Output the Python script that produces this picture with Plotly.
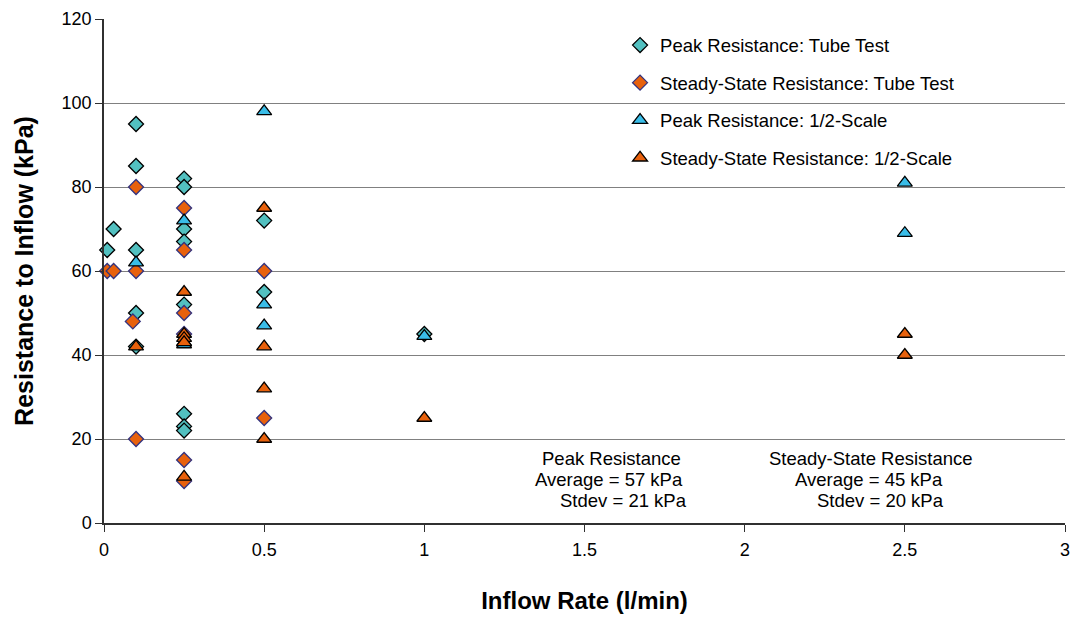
import plotly.graph_objects as go

# ---- data ----
peak_tube_x = [0.01, 0.03, 0.1, 0.1, 0.1, 0.1, 0.1, 0.25, 0.25, 0.25, 0.25, 0.25, 0.25, 0.25, 0.25, 0.5, 0.5, 1.0]
peak_tube_y = [65, 70, 95, 85, 65, 50, 42, 82, 80, 70, 67, 52, 26, 23, 22, 72, 55, 45]

steady_tube_x = [0.01, 0.03, 0.1, 0.1, 0.09, 0.1, 0.25, 0.25, 0.25, 0.25, 0.25, 0.25, 0.5, 0.5]
steady_tube_y = [60, 60, 80, 60, 48, 20, 75, 65, 50, 45, 15, 10, 60, 25]

peak_half_x = [0.1, 0.25, 0.25, 0.25, 0.5, 0.5, 0.5, 1.0, 2.5, 2.5]
peak_half_y = [62, 72, 43, 42.5, 98, 52, 47, 44.5, 81, 69]

steady_half_x = [0.1, 0.25, 0.25, 0.25, 0.25, 0.25, 0.5, 0.5, 0.5, 0.5, 1.0, 2.5, 2.5]
steady_half_y = [42, 55, 45, 44, 43, 11, 75, 42, 32, 20, 25, 45, 40]

series_names = [
    "Peak Resistance: Tube Test",
    "Steady-State Resistance: Tube Test",
    "Peak Resistance: 1/2-Scale",
    "Steady-State Resistance: 1/2-Scale",
]

x_ticks = [0, 0.5, 1, 1.5, 2, 2.5, 3]
x_tick_labels = ["0", "0.5", "1", "1.5", "2", "2.5", "3"]
y_ticks = [0, 20, 40, 60, 80, 100, 120]

# statistics text blocks (one entry per line)
peak_stats = ["Peak Resistance", "Average = 57 kPa", "Stdev = 21 kPa"]
peak_stats_x = [1.584, 1.578, 1.621]
steady_stats = ["Steady-State Resistance", "Average = 45 kPa", "Stdev = 20 kPa"]
steady_stats_x = [2.394, 2.388, 2.425]
stats_y = [15.45, 10.46, 5.47]

TEAL = "#52C0C0"
ORANGE = "#E8610C"
BLUE = "#3ABDE8"
FONT = "Liberation Sans, Arial, sans-serif"

fig = go.Figure()
fig.add_trace(go.Scatter(x=peak_tube_x, y=peak_tube_y, mode="markers", name=series_names[0],
                         legendgroup="a", cliponaxis=False,
                         marker=dict(symbol="diamond", size=11.5, color=TEAL,
                                     line=dict(color="#000000", width=1.3))))
fig.add_trace(go.Scatter(x=steady_tube_x, y=steady_tube_y, mode="markers", name=series_names[1],
                         legendgroup="b", cliponaxis=False,
                         marker=dict(symbol="diamond", size=11.5, color=ORANGE,
                                     line=dict(color="#33337F", width=1.3))))
fig.add_trace(go.Scatter(x=peak_half_x, y=peak_half_y, mode="markers", name=series_names[2],
                         legendgroup="c", cliponaxis=False,
                         marker=dict(symbol="triangle-up", size=13, color=BLUE,
                                     line=dict(color="#000000", width=1.3))))
fig.add_trace(go.Scatter(x=steady_half_x, y=steady_half_y, mode="markers", name=series_names[3],
                         legendgroup="d", cliponaxis=False,
                         marker=dict(symbol="triangle-up", size=13, color=ORANGE,
                                     line=dict(color="#000000", width=1.3))))

# white box behind legend (hides the gridline like the original legend box)
fig.add_shape(type="rect", xref="paper", yref="paper", x0=0.511, x1=0.938, y0=0.69, y1=0.98,
              fillcolor="white", line=dict(width=0), layer="between")
# hide the grid line at the top edge (original has none)
fig.add_shape(type="line", xref="paper", yref="paper", x0=0, x1=1, y0=1, y1=1,
              line=dict(color="white", width=2), layer="between")

ann_font = dict(family=FONT, size=18.5, color="#000000")
for txt, xx, yy in zip(peak_stats, peak_stats_x, stats_y):
    fig.add_annotation(x=xx, y=yy, xref="x", yref="y", xanchor="center", yanchor="middle",
                       text=txt, showarrow=False, font=ann_font)
for txt, xx, yy in zip(steady_stats, steady_stats_x, stats_y):
    fig.add_annotation(x=xx, y=yy, xref="x", yref="y", xanchor="center", yanchor="middle",
                       text=txt, showarrow=False, font=ann_font)

fig.update_layout(
    width=1079, height=619,
    margin=dict(l=104, r=9, t=18, b=96),
    paper_bgcolor="white", plot_bgcolor="white",
    font=dict(family=FONT, size=18, color="#000000"),
    showlegend=True,
    legend=dict(x=0.537, y=0.985, xanchor="left", yanchor="top",
                bgcolor="rgba(255,255,255,0)", borderwidth=0,
                font=dict(family=FONT, size=18.5, color="#000000"),
                tracegroupgap=10.5, traceorder="grouped"),
    xaxis=dict(range=[0, 3], tickvals=x_ticks, ticktext=x_tick_labels,
               showgrid=False, zeroline=False,
               showline=True, linecolor="#303030", linewidth=1.5,
               ticks="outside", ticklen=7, tickcolor="#303030", tickwidth=1,
               ticklabelstandoff=3,
               tickfont=dict(family=FONT, size=18),
               title=dict(text="<b>Inflow Rate (l/min)</b>", standoff=33,
                          font=dict(family=FONT, size=24))),
    yaxis=dict(range=[0, 120], tickvals=y_ticks,
               showgrid=True, gridcolor="#808080", gridwidth=1, zeroline=False,
               showline=True, linecolor="#303030", linewidth=1.5,
               ticks="outside", ticklen=7, tickcolor="#303030", tickwidth=1,
               ticklabelstandoff=0,
               tickfont=dict(family=FONT, size=18),
               title=dict(text="<b>Resistance to Inflow (kPa)</b>", standoff=21,
                          font=dict(family=FONT, size=25))),
)

fig.write_html("out.html")
